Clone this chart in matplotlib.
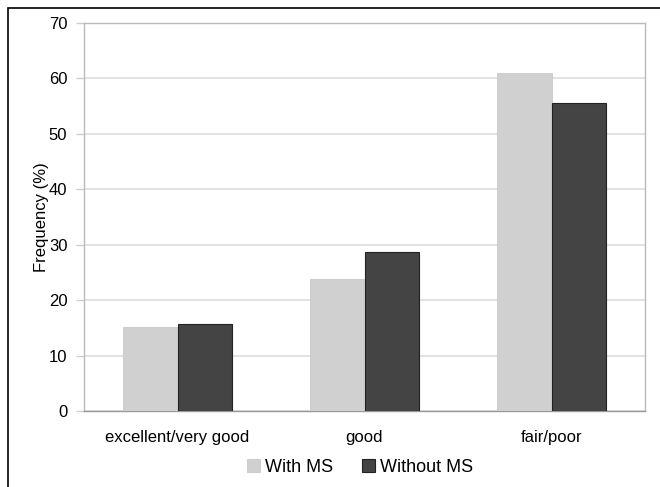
import matplotlib
matplotlib.use("Agg")
import matplotlib.pyplot as plt
import numpy as np
from matplotlib.patches import Rectangle

plt.rcParams['font.family'] = ['Liberation Sans', 'DejaVu Sans']

categories = ["excellent/very good", "good", "fair/poor"]
with_ms = [15.1, 23.8, 61.0]
without_ms = [15.7, 28.6, 55.6]
series_names = ["With MS", "Without MS"]
yticks = [0, 10, 20, 30, 40, 50, 60, 70]

fig = plt.figure(figsize=(6.6, 4.87), dpi=100)
ax = fig.add_axes([84/660, 1 - 411/487, (645-84)/660, (411-23)/487])

x = np.arange(len(categories))
w = 0.29
ax.bar(x - w/2, with_ms, w, color="#d0d0d0", edgecolor="#c8c8c8", linewidth=0.6,
       label=series_names[0], zorder=3)
ax.bar(x + w/2, without_ms, w, color="#444444", edgecolor="#222222", linewidth=0.8,
       label=series_names[1], zorder=3)

ax.set_xlim(-0.5, len(categories) - 0.5)
ax.set_ylim(0, 70)
ax.set_yticks(yticks)
ax.set_xticks(x)
ax.set_xticklabels(categories, fontsize=12)
ax.tick_params(axis="x", length=0, pad=14, labelsize=12, colors="black")
ax.tick_params(axis="y", length=6, width=1, color="#cccccc", pad=6, labelsize=12,
               labelcolor="black")
ax.grid(axis="y", color="#dddddd", linewidth=1.2, zorder=0)
for s in ax.spines.values():
    s.set_color("#bbbbbb")
    s.set_linewidth(1.0)
ax.spines["bottom"].set_color("#999999")
ax.set_ylabel("Frequency (%)", fontsize=12, labelpad=0)

ax.legend(loc="upper center", bbox_to_anchor=(0.492, -0.082), ncol=2, frameon=False,
          fontsize=13, handlelength=0.7, handleheight=0.7, handletextpad=0.3,
          columnspacing=1.6)

# outer frame
fig.patches.append(Rectangle((8/660, -0.01), 1.0, 1 - 8/487 + 0.01, transform=fig.transFigure,
                             fill=False, edgecolor="black", linewidth=1.2))

fig.savefig("out.png", dpi=100)
